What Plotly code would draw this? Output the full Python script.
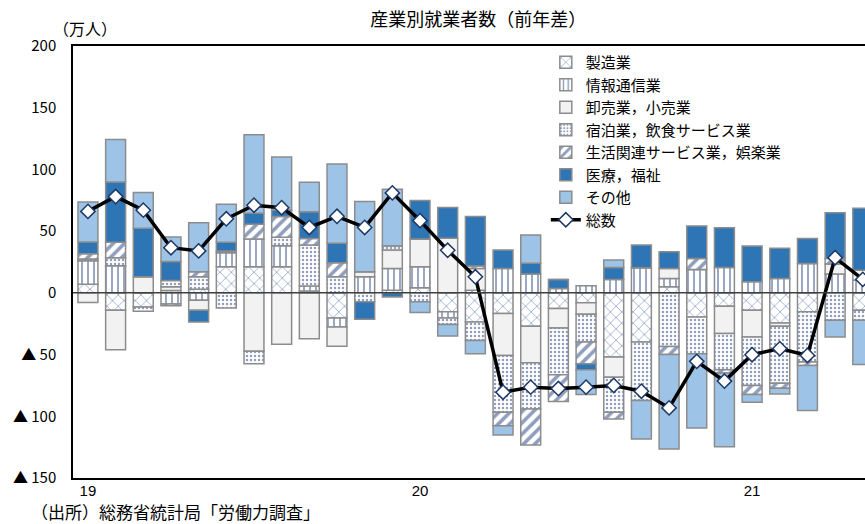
import plotly.graph_objects as go

months = list(range(29))  # 2019-01 .. 2021-05
tick_pos = [0, 12, 24]
tick_text = ["19", "20", "21"]

mfg    = [7, -14.1, -11.4, 2, 3, 21.1, 21.1, 21.1, 1.6, -20.3, 0, 2.2, 4.1, -15.4, -23.6, -16.8, -27.1, -12.7, -8.1, -52, -39.8, 4.9, -19.5, -10.8, -14.1, -24.4, -15.4, 0, -14.1]
info   = [19, 22, 0, -9, -6, 11.4, 22.5, 17.1, 4, -7.3, 13, 17.6, 17.1, -4.9, 2.2, 19.8, 15.2, 3.5, 5.7, 10.8, 20.3, 6.8, 19, 20.6, 8.9, 11.7, 23.8, 15.2, 10.3]
retail = [-7.9, -32, 13, 3, -8.1, 1.4, -47.4, -41.7, -37.1, -15.7, 4.1, 14.9, 22.5, 44.3, 17.6, -33.9, -29.5, -15.7, -9.2, -16.3, 0, 8.1, 0, -22.2, -21.7, -2.7, 0, 8.1, 8.1]
food   = [1.4, 6.5, -3.5, 5, 10, -12.2, -10, 6.8, 33.1, 13, -7.3, 3.5, -7.3, -5.4, -14.9, -46.1, -37.4, -37.9, -22.5, -28.5, -47.4, -43.4, -29.8, -29.3, -39.3, -46.1, -40.7, -22.2, -8.1]
life   = [4.3, 12.5, 0, -1.5, 4.1, 0, 11.9, 16.8, 5.4, 11.4, 0, 0, 0, 0, 1.9, -10.8, -29.3, -21.7, -17.6, -5.4, 0, -6.5, 8.9, -2.7, -7.3, -4.1, -2.7, 4.6, 0]
med    = [9.5, 48.8, 39.3, 15.4, -9.5, 7, 8.9, 5.4, 21.7, 15.7, -14.1, -3.3, 31.2, 24.9, 40.1, 14.9, 8.7, 7.3, -4.9, 9.8, 18.4, 13.6, 26.3, 32.2, 29, 24.4, 20.3, 37.1, 50.1]
other  = [32.5, 34.4, 29, 19.8, 39.8, 30.9, 63.7, 42.8, 23.8, 64.2, 56.9, 45.8, -8.7, -9.2, -10.8, -7.6, 23, 0, -20, 6, -31.2, -76.7, -60.2, -59.6, -6.2, -4.6, -36.6, -13.6, -35.8]
total  = [66, 78, 67, 36.6, 34, 60, 71, 69, 53, 62, 53, 81, 58.5, 34.5, 13, -80.5, -76.4, -77.5, -76.4, -75, -79.7, -93.2, -55.5, -71.5, -50.1, -45.2, -50.7, 28.5, 10.9]

names = ["製造業", "情報通信業", "卸売業，小売業", "宿泊業，飲食サービス業",
         "生活関連サービス業，娯楽業", "医療，福祉", "その他"]
total_name = "総数"
series = [mfg, info, retail, food, life, med, other]

NAVY = "#1f3d7a"
OUTLINE = "#8c8c8c"
styles = [
    dict(color="white", pattern=dict(shape="x", fgcolor="#2f5597", bgcolor="white", size=8, solidity=0.2)),
    dict(color="white", pattern=dict(shape="|", fgcolor=NAVY, bgcolor="white", size=6, solidity=0.3)),
    dict(color="#f2f2f2"),
    dict(color="white", pattern=dict(shape=".", fgcolor=NAVY, bgcolor="white", size=4, solidity=0.3)),
    dict(color="white", pattern=dict(shape="/", fgcolor=NAVY, bgcolor="white", size=8, solidity=0.45)),
    dict(color="#2e75b6"),
    dict(color="#9dc3e6"),
]

FONT = "Noto Sans CJK JP"

fig = go.Figure()
for name, vals, st in zip(names, series, styles):
    m = dict(st)
    m["line"] = dict(color=OUTLINE, width=1.5)
    fig.add_trace(go.Bar(x=months, y=vals, name=name, marker=m))

fig.add_trace(go.Scatter(
    x=months, y=total, name=total_name, mode="lines+markers",
    line=dict(color="black", width=3.5),
    marker=dict(symbol="diamond", size=11, color="white", line=dict(color="#1f3864", width=1.5)),
))

fig.update_layout(
    width=865, height=524,
    margin=dict(l=73, r=0, t=46, b=46),
    barmode="relative", bargap=0.28,
    plot_bgcolor="white", paper_bgcolor="white",
    font=dict(family=FONT, color="black", size=15),
    title=dict(text="産業別就業者数（前年差）", x=0.553, xanchor="center",
               y=1 - 20 / 524, yanchor="middle", font=dict(size=18, family=FONT)),
    legend=dict(x=0.597, y=1.0, xanchor="left", yanchor="top",
                bgcolor="rgba(0,0,0,0)", font=dict(size=15, family=FONT),
                tracegroupgap=0, itemwidth=30),
    showlegend=True,
)
fig.update_xaxes(range=[-0.54, 28.08], tickvals=tick_pos, ticktext=tick_text,
                 tickfont=dict(family="Liberation Sans", size=15),
                 showline=True, linecolor="black", linewidth=1.5, mirror=True,
                 showgrid=False, zeroline=False, ticks="", ticklabelstandoff=-2)
fig.update_yaxes(range=[-150, 200], tickvals=[-150, -100, -50, 0, 50, 100, 150, 200],
                 ticktext=["▲ 150", "▲ 100", "▲ 50", "0", "50", "100", "150", "200"],
                 showline=True, linecolor="black", linewidth=1.5,
                 showgrid=False, zeroline=False, ticks="", ticklabelstandoff=12)
fig.add_shape(type="line", xref="paper", x0=0, x1=1, yref="y", y0=0, y1=0,
              line=dict(color="#404040", width=1.5), layer="above")
fig.add_annotation(text="（万人）", xref="paper", yref="paper", x=-0.028, y=1.042,
                   xanchor="left", yanchor="middle", showarrow=False, font=dict(size=16))
fig.add_annotation(text="（出所）総務省統計局「労働力調査」", xref="paper", yref="paper",
                   x=-0.055, y=-0.0775, xanchor="left", yanchor="middle", showarrow=False,
                   font=dict(size=17))
fig.write_html("out.html")
